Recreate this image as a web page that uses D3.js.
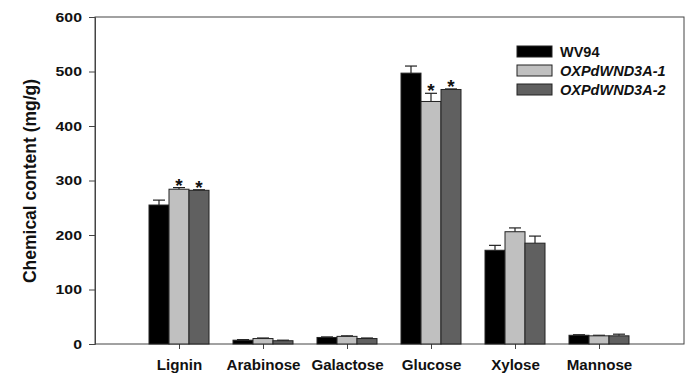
<!DOCTYPE html>
<html><head><meta charset="utf-8">
<script src="https://cdn.jsdelivr.net/npm/d3@7"></script>
<style>body{margin:0;background:#fff;}svg{display:block;font-family:"Liberation Sans",Arial,sans-serif;}</style>
</head><body>
<script>
const categories = ["Lignin","Arabinose","Galactose","Glucose","Xylose","Mannose"];
const seriesNames = ["WV94","OXPdWND3A-1","OXPdWND3A-2"];
const wv94 = [255, 7, 12, 497, 172, 16];
const wv94Err = [9, 1, 1, 13, 9, 1];
const ox1 = [284, 10, 14, 445, 206, 15];
const ox1Err = [3, 1, 1, 15, 7, 1];
const ox2 = [282, 6, 10, 467, 185, 15];
const ox2Err = [1, 1, 1, 1, 13, 3];
const ox1Star = [true,false,false,true,false,false];
const ox2Star = [true,false,false,true,false,false];
const yTicks = [0,100,200,300,400,500,600];
const colors = ["#000000","#c0c0c0","#606060"];

const W=687,H=373;
const svg=d3.select("body").append("svg").attr("width",W).attr("height",H);
const L=95,R=684,T=17,B=344;
const y=d3.scaleLinear().domain([0,600]).range([B,T]);
const x=d3.scalePoint().domain(categories).range([179,599]);
const sub=d3.scaleBand().domain(seriesNames).range([-30,30]);

const series=[
  {name:seriesNames[0],vals:wv94,err:wv94Err,star:null},
  {name:seriesNames[1],vals:ox1,err:ox1Err,star:ox1Star},
  {name:seriesNames[2],vals:ox2,err:ox2Err,star:ox2Star}
];

function stretch(sel, s){
  sel.each(function(){
    const t=d3.select(this);
    const xx=+(t.attr("x")||0);
    t.attr("x",0).attr("transform",`translate(${xx},0) scale(${s},1)`);
  });
}

// frame
svg.append("rect").attr("x",L).attr("y",T).attr("width",R-L).attr("height",B-T)
  .attr("fill","none").attr("stroke","#444").attr("stroke-width",1);

// y axis
const ya=svg.append("g").attr("transform",`translate(${L},0)`)
  .call(d3.axisLeft(y).tickValues(yTicks).tickSize(6).tickPadding(7));
ya.select(".domain").attr("stroke","#444");
ya.selectAll(".tick line").attr("stroke","#444");
ya.selectAll("text").attr("font-size",13).attr("font-weight","bold").attr("fill","#111").attr("font-family","Liberation Sans, Arial, sans-serif");
stretch(ya.selectAll(".tick text"),1.22);

// x axis
const xa=svg.append("g").attr("transform",`translate(0,${B})`)
  .call(d3.axisBottom(x).tickSize(5).tickPadding(11));
xa.select(".domain").remove();
xa.selectAll(".tick line").attr("stroke","#444");
xa.selectAll("text").attr("font-size",14).attr("font-weight","bold").attr("fill","#111").attr("font-family","Liberation Sans, Arial, sans-serif");
stretch(xa.selectAll(".tick text"),1.08);

// bars
series.forEach((s,si)=>{
  const g=svg.append("g");
  categories.forEach((c,i)=>{
    const x0=x(c)+sub(s.name);
    const v=s.vals[i], e=s.err[i];
    const cx=x0+sub.bandwidth()/2;
    g.append("line").attr("x1",cx).attr("x2",cx).attr("y1",y(v)).attr("y2",y(v+e)).attr("stroke","#222").attr("stroke-width",1.2);
    g.append("line").attr("x1",cx-6).attr("x2",cx+6).attr("y1",y(v+e)).attr("y2",y(v+e)).attr("stroke","#222").attr("stroke-width",1.2);
    g.append("rect").attr("x",x0).attr("y",y(v)).attr("width",sub.bandwidth()).attr("height",B-y(v))
      .attr("fill",colors[si]).attr("stroke","#222").attr("stroke-width",1);
    if(s.star && s.star[i]){
      g.append("text").attr("x",cx).attr("y",y(v+e)+4).attr("text-anchor","middle")
        .attr("font-size",19).attr("font-weight","bold").attr("fill","#111").text("*");
    }
  });
});

// y title
svg.append("text").attr("transform",`translate(36,181) rotate(-90)`).attr("text-anchor","middle")
  .attr("font-size",17.5).attr("font-weight","bold").attr("fill","#111").text("Chemical content (mg/g)");

// legend
const lg=svg.append("g");
seriesNames.forEach((n,i)=>{
  const yy=51.5+i*19;
  lg.append("rect").attr("x",517).attr("y",yy-5.5).attr("width",35).attr("height",11)
    .attr("fill",colors[i]).attr("stroke","#222").attr("stroke-width",1);
  lg.append("text").attr("x",560).attr("y",yy+5.5).attr("font-size",14.5).attr("font-weight","bold")
    .attr("font-style",i===0?"normal":"italic").attr("fill","#111").text(n);
});
</script>
</body></html>
